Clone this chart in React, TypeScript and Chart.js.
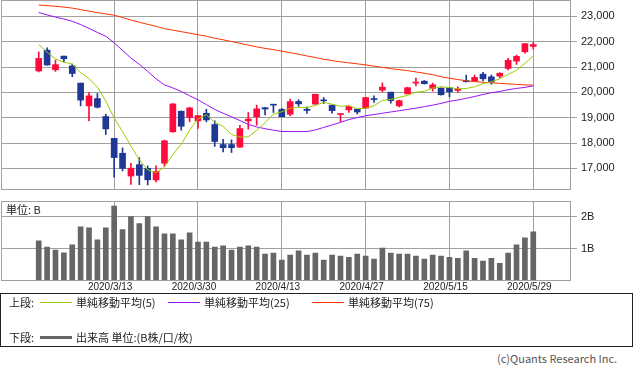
import React, { useEffect, useRef } from "react";
import { Chart, registerables } from "chart.js";
Chart.register(...registerables);

const dates = [
  "2020/3/2", "2020/3/3", "2020/3/4", "2020/3/5", "2020/3/6", "2020/3/9", "2020/3/10", "2020/3/11", "2020/3/12", "2020/3/13",
  "2020/3/16", "2020/3/17", "2020/3/18", "2020/3/19", "2020/3/23", "2020/3/24", "2020/3/25", "2020/3/26", "2020/3/27", "2020/3/30",
  "2020/3/31", "2020/4/1", "2020/4/2", "2020/4/3", "2020/4/6", "2020/4/7", "2020/4/8", "2020/4/9", "2020/4/10", "2020/4/13",
  "2020/4/14", "2020/4/15", "2020/4/16", "2020/4/17", "2020/4/20", "2020/4/21", "2020/4/22", "2020/4/23", "2020/4/24", "2020/4/27",
  "2020/4/28", "2020/4/30", "2020/5/1", "2020/5/7", "2020/5/8", "2020/5/11", "2020/5/12", "2020/5/13", "2020/5/14", "2020/5/15",
  "2020/5/18", "2020/5/19", "2020/5/20", "2020/5/21", "2020/5/22", "2020/5/25", "2020/5/26", "2020/5/27", "2020/5/28", "2020/5/29",
];

const openP = [
  20850, 21670, 20895, 21435, 21050, 20370, 19470, 19760, 19050, 18190,
  17600, 16700, 17150, 17000, 16550, 17206, 18446, 19260, 19010, 18880,
  19180, 18735, 17945, 17945, 17840, 18880, 19040, 19400, 19510, 19330,
  19140, 19645, 19340, 19540, 19684, 19500, 19130, 19312, 19340, 19380,
  19750, 20090, 20012, 19470, 19945, 20370, 20447, 20158, 20170, 20182,
  20079, 20458, 20435, 20723, 20617, 20644, 20949, 21237, 21605, 21818,
];
const highP = [
  21600, 21760, 21280, 21440, 21120, 20370, 20000, 19960, 19140, 18190,
  17810, 17200, 17430, 17100, 17100, 18120, 19560, 19270, 19420, 19090,
  19340, 18880, 18150, 18130, 18700, 19210, 19500, 19410, 19510, 19380,
  19735, 19715, 19430, 19930, 19800, 19500, 19150, 19460, 19340, 19800,
  19866, 20380, 20012, 19700, 20210, 20565, 20470, 20368, 20180, 20190,
  20221, 20684, 20684, 20790, 20690, 20780, 21344, 21474, 21940, 21976,
];
const lowP = [
  20810, 21080, 20830, 21200, 20620, 19470, 18880, 19390, 18340, 16660,
  16900, 16375, 16360, 16350, 16470, 17100, 18430, 18510, 18840, 18577,
  18840, 17870, 17650, 17630, 17830, 18550, 18710, 19115, 19210, 19036,
  19075, 19450, 19170, 19530, 19565, 19182, 18840, 19209, 19154, 19380,
  19605, 20024, 19577, 19431, 19940, 20261, 20330, 20051, 19890, 19826,
  20000, 20410, 20430, 20460, 20328, 20577, 20893, 21107, 21553, 21711,
];
const closeP = [
  21344, 21083, 21100, 21329, 20750, 19699, 19867, 19416, 18560, 17431,
  17002, 17012, 16727, 16553, 16888, 18092, 19547, 18665, 19389, 19085,
  18917, 18065, 17819, 17820, 18576, 18950, 19353, 19346, 19499, 19043,
  19639, 19550, 19290, 19930, 19669, 19281, 19138, 19445, 19230, 19800,
  19720, 20210, 19680, 19675, 20190, 20395, 20345, 20300, 19910, 20030,
  20133, 20425, 20595, 20540, 20410, 20760, 21271, 21425, 21925, 21890,
];

const ma5 = [
  21893, 21589, 21324, 21200, 21121, 20792, 20549, 20212, 19658, 18995,
  18455, 17884, 17346, 16945, 16836, 17054, 17561, 17949, 18516, 18956,
  19121, 18824, 18655, 18341, 18239, 18246, 18504, 18809, 19145, 19238,
  19376, 19415, 19404, 19484, 19609, 19537, 19455, 19483, 19356, 19379,
  19477, 19688, 19726, 19808, 19888, 20012, 20046, 20176, 20224, 20195,
  20144, 20157, 20223, 20350, 20420, 20542, 20710, 20874, 21147, 21445,
];
const ma25 = [
  23162, 23060, 22975, 22900, 22810, 22680, 22530, 22370, 22220, 21960,
  21660, 21360, 21110, 20830, 20540, 20300, 20180, 20040, 19870, 19710,
  19520, 19330, 19180, 19040, 18890, 18740, 18640, 18570, 18510, 18460,
  18458, 18458, 18458, 18520, 18620, 18720, 18820, 18930, 19010, 19080,
  19130, 19180, 19230, 19280, 19330, 19380, 19440, 19500, 19570, 19650,
  19700, 19770, 19840, 19920, 19990, 20040, 20110, 20160, 20200, 20261,
];
const ma75 = [
  23451, 23430, 23400, 23370, 23330, 23270, 23210, 23150, 23100, 23050,
  22960, 22860, 22770, 22690, 22610, 22520, 22460, 22400, 22340, 22280,
  22220, 22140, 22080, 22010, 21940, 21870, 21800, 21740, 21690, 21630,
  21570, 21510, 21440, 21380, 21310, 21260, 21210, 21170, 21130, 21090,
  21040, 20990, 20940, 20900, 20860, 20810, 20760, 20700, 20620, 20560,
  20510, 20460, 20430, 20400, 20380, 20360, 20340, 20320, 20300, 20289,
];

const volumeB = [
  1.25, 1.05, 0.96, 0.87, 1.12, 1.69, 1.66, 1.28, 1.66, 2.34,
  1.6, 2.01, 1.79, 2.01, 1.69, 1.47, 1.47, 1.28, 1.5, 1.21,
  1.21, 1.05, 1.09, 0.96, 1.05, 1.09, 1.05, 0.83, 0.86, 0.64,
  0.8, 0.93, 0.8, 0.86, 0.64, 0.8, 0.77, 0.73, 0.83, 0.77,
  0.67, 1.02, 0.86, 0.83, 0.83, 0.77, 0.67, 0.8, 0.77, 0.73,
  0.7, 0.93, 0.7, 0.61, 0.7, 0.54, 0.86, 1.12, 1.34, 1.53,
];

const priceTicks = [17000, 18000, 19000, 20000, 21000, 22000, 23000];
const volumeTicks = [1, 2];
const dateTicks = ["2020/3/13", "2020/3/30", "2020/4/13", "2020/4/27", "2020/5/15", "2020/5/29"];

const RED = "#ff0a3c";
const BLUE = "#1f3896";
const GRID = "#a0a0a0";
const C_MA5 = "#99cc00";
const C_MA25 = "#9a12f5";
const C_MA75 = "#ff3300";
const VOL = "#666666";
const TXT = "#222222";
const SANS = "'Noto Sans CJK JP', 'Noto Sans', sans-serif";
const NUMF = "'Liberation Sans', sans-serif";

const frame = {
  id: "frame",
  afterDraw(chart: any) {
    const { ctx, chartArea: a } = chart;
    ctx.save();
    ctx.strokeStyle = GRID;
    ctx.lineWidth = 1;
    ctx.strokeRect(Math.round(a.left) + 0.5, Math.round(a.top) + 0.5, Math.round(a.right - a.left) - 1, Math.round(a.bottom - a.top) - 1);
    ctx.restore();
  },
};

const candleColors = dates.map((_, i) => (closeP[i] >= openP[i] ? RED : BLUE));
const X_MIN = -4.5;
const X_MAX = dates.length + 3.5;

function xScale(showLabels: boolean, axisHeight: number) {
  return {
    type: "linear",
    min: X_MIN,
    max: X_MAX,
    offset: false,
    afterBuildTicks: (s: any) => {
      s.ticks = dateTicks.map((d) => ({ value: dates.indexOf(d) }));
    },
    afterFit: (s: any) => {
      s.height = axisHeight;
      s.paddingLeft = 0;
      s.paddingRight = 0;
    },
    grid: { color: GRID, offset: false, drawTicks: false, lineWidth: 1 },
    border: { display: false },
    ticks: {
      display: showLabels,
      autoSkip: false,
      maxRotation: 0,
      padding: 1,
      labelOffset: -4,
      color: TXT,
      font: { family: NUMF, size: 10 },
      callback: (v: any) => dates[v] ?? "",
    },
  };
}

function MainChart() {
  const ref = useRef<HTMLCanvasElement>(null);
  useEffect(() => {
    const chart = new Chart(ref.current as HTMLCanvasElement, {
      type: "bar",
      data: {
        datasets: [
          { type: "line", data: ma5.map((v, i) => ({ x: i, y: v })), borderColor: C_MA5, borderWidth: 1, pointRadius: 0, order: 0 },
          { type: "line", data: ma25.map((v, i) => ({ x: i, y: v })), borderColor: C_MA25, borderWidth: 1, pointRadius: 0, order: 0 },
          { type: "line", data: ma75.map((v, i) => ({ x: i, y: v })), borderColor: C_MA75, borderWidth: 1, pointRadius: 0, order: 0 },
          {
            type: "bar",
            data: dates.map((_, i) => ({ x: i, y: [lowP[i], highP[i]] })),
            backgroundColor: candleColors,
            barThickness: 1,
            grouped: false,
            order: 2,
          },
          {
            type: "bar",
            data: dates.map((_, i) => ({ x: i, y: [openP[i], closeP[i]] })),
            backgroundColor: candleColors,
            barThickness: 6,
            minBarLength: 1,
            grouped: false,
            order: 1,
          },
        ] as any,
      },
      options: {
        animation: false,
        responsive: false,
        events: [],
        layout: { padding: { left: 1, top: 0, right: 0, bottom: 0 } },
        plugins: { legend: { display: false }, tooltip: { enabled: false } },
        scales: {
          x: xScale(false, 1) as any,
          y: {
            position: "right",
            min: 16150,
            max: 23650,
            afterBuildTicks: (s: any) => {
              s.ticks = priceTicks.map((v) => ({ value: v }));
            },
            afterFit: (s: any) => {
              s.width = 62;
              s.paddingTop = 0;
              s.paddingBottom = 0;
            },
            grid: { color: GRID, tickLength: 6, lineWidth: 1 },
            border: { display: false },
            ticks: {
              padding: 4,
              color: TXT,
              font: { family: NUMF, size: 11 },
              callback: (v: any) => Number(v).toLocaleString("en-US"),
            },
          },
        },
      },
      plugins: [frame],
    } as any);
    return () => chart.destroy();
  }, []);
  return <canvas ref={ref} width={633} height={191} style={{ position: "absolute", left: 0, top: 0, width: 633, height: 191 }} />;
}

function VolumeChart() {
  const ref = useRef<HTMLCanvasElement>(null);
  useEffect(() => {
    const chart = new Chart(ref.current as HTMLCanvasElement, {
      type: "bar",
      data: {
        datasets: [
          {
            type: "bar",
            data: volumeB.map((v, i) => ({ x: i, y: v })),
            backgroundColor: VOL,
            barThickness: 5,
            grouped: false,
          },
        ] as any,
      },
      options: {
        animation: false,
        responsive: false,
        events: [],
        layout: { padding: { left: 1, top: 5, right: 0, bottom: 0 } },
        plugins: { legend: { display: false }, tooltip: { enabled: false } },
        scales: {
          x: xScale(true, 19.5) as any,
          y: {
            position: "right",
            min: 0,
            max: 2.5,
            afterBuildTicks: (s: any) => {
              s.ticks = volumeTicks.map((v) => ({ value: v }));
            },
            afterFit: (s: any) => {
              s.width = 62;
              s.paddingTop = 0;
              s.paddingBottom = 0;
            },
            grid: { color: GRID, tickLength: 6, lineWidth: 1 },
            border: { display: false },
            ticks: {
              padding: 4,
              color: TXT,
              font: { family: NUMF, size: 11 },
              callback: (v: any) => v + "B",
            },
          },
        },
      },
      plugins: [frame],
    } as any);
    return () => chart.destroy();
  }, []);
  return <canvas ref={ref} width={633} height={104} style={{ position: "absolute", left: 0, top: 196, width: 633, height: 104 }} />;
}

function Txt(props: { x: number; y: number; children: React.ReactNode; color?: string; size?: number }) {
  return (
    <div
      style={{
        position: "absolute",
        left: props.x,
        top: props.y - 8,
        height: 16,
        lineHeight: "16px",
        fontFamily: SANS,
        fontSize: props.size ?? 11,
        color: props.color ?? TXT,
        whiteSpace: "nowrap",
      }}
    >
      {props.children}
    </div>
  );
}

function Swatch(props: { x: number; y: number; color: string; h: number }) {
  return (
    <div
      style={{
        position: "absolute",
        left: props.x,
        top: props.y - props.h / 2,
        width: 32,
        height: props.h,
        background: props.color,
      }}
    />
  );
}

export default function App() {
  return (
    <div style={{ position: "absolute", left: 0, top: 0, width: 633, height: 374, background: "#fff", overflow: "hidden" }}>
      <MainChart />
      <VolumeChart />
      <Txt x={6} y={209}>単位: B</Txt>
      <div
        style={{
          position: "absolute",
          left: 0,
          top: 293,
          width: 633,
          height: 54,
          border: "1px solid #222",
          boxSizing: "border-box",
        }}
      />
      <Txt x={9} y={302}>上段:</Txt>
      <Swatch x={40} y={302} color={C_MA5} h={1} />
      <Txt x={76} y={302}>単純移動平均(5)</Txt>
      <Swatch x={168} y={302} color={C_MA25} h={1} />
      <Txt x={204} y={302}>単純移動平均(25)</Txt>
      <Swatch x={312} y={302} color={C_MA75} h={1} />
      <Txt x={348} y={302}>単純移動平均(75)</Txt>
      <Txt x={9} y={337}>下段:</Txt>
      <Swatch x={40} y={337} color={VOL} h={3} />
      <Txt x={76} y={337}>出来高 単位:(B株/口/枚)</Txt>
      <Txt x={497} y={358} color="#555">(c)Quants Research Inc.</Txt>
    </div>
  );
}
